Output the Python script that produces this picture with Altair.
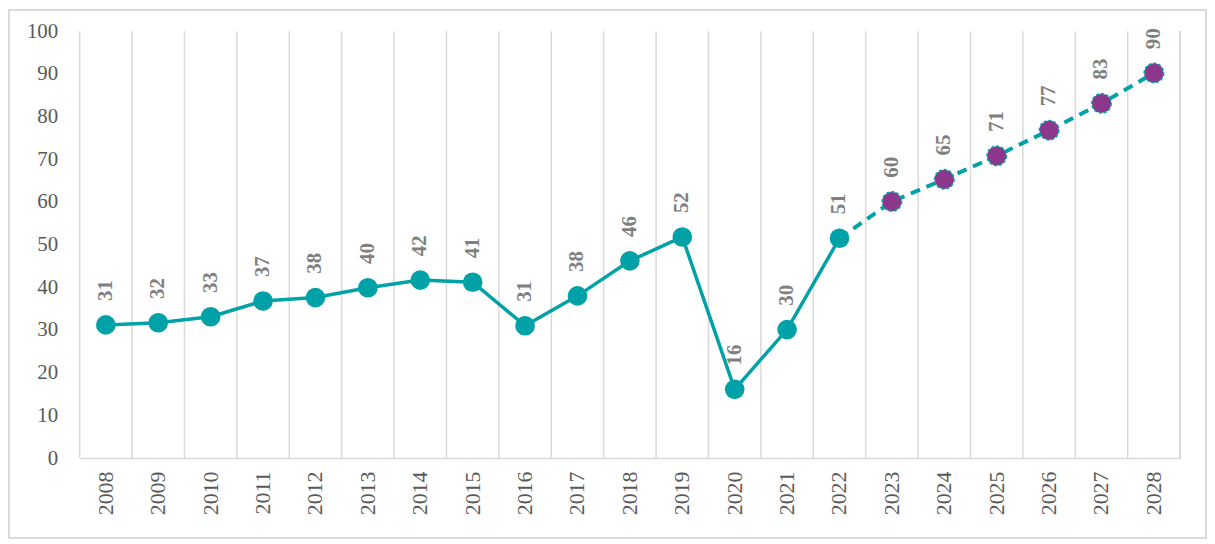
import altair as alt
import pandas as pd

years = [str(y) for y in range(2008, 2029)]
values = [31.2, 31.7, 33.1, 36.8, 37.6, 39.9, 41.7, 41.2, 31.0, 38.0, 46.2,
          51.8, 16.1, 30.1, 51.5, 60.1, 65.3, 70.8, 76.8, 83.1, 90.2]
labels = [31, 32, 33, 37, 38, 40, 42, 41, 31, 38, 46, 52, 16, 30, 51,
          60, 65, 71, 77, 83, 90]
last_actual = "2022"

TEAL = "#00A2A7"
PURPLE = "#8C368C"
GRID = "#D9D9D9"
TXT = "#595959"
FONT = "Liberation Serif"

df = pd.DataFrame({"year": years, "value": values, "label": labels})
idx = years.index(last_actual)
hist = df.iloc[: idx + 1]
fc = df.iloc[idx:]
fc_pts = df.iloc[idx + 1:]

W, H = 1106, 429

xscale = alt.Scale(type="band", paddingInner=0, paddingOuter=0, domain=years)
xaxis = alt.Axis(
    title=None, labelAngle=270, labelFont=FONT, labelFontSize=22,
    labelColor=TXT, labelPadding=13, ticks=False, domain=True,
    domainColor=GRID, domainWidth=1.5, grid=False,
)
yscale = alt.Scale(domain=[0, 100])
yaxis = alt.Axis(
    title=None, values=list(range(0, 101, 10)), labelFont=FONT,
    labelFontSize=21, labelColor=TXT, labelPadding=22, ticks=False,
    domain=False, grid=False,
)

X = alt.X("year:N", scale=xscale, axis=xaxis)
Y = alt.Y("value:Q", scale=yscale, axis=yaxis)

base = alt.Chart(df)

grid = base.mark_rule(color=GRID, strokeWidth=1.5).encode(
    x=alt.X("year:N", scale=xscale, axis=xaxis, bandPosition=0)
)
right_edge = base.mark_rule(color=GRID, strokeWidth=1.5).encode(
    x=alt.value(W), y=alt.value(0), y2=alt.value(H)
)
border = base.mark_rect(filled=False, stroke=GRID, strokeWidth=1.5).encode(
    x=alt.value(-71), x2=alt.value(W + 26), y=alt.value(-21), y2=alt.value(H + 80)
)

line_hist = alt.Chart(hist).mark_line(color=TEAL, strokeWidth=3.5).encode(x=X, y=Y)
line_fc = alt.Chart(fc).mark_line(
    color=TEAL, strokeWidth=4, strokeDash=[10, 7]
).encode(x=X, y=Y)

pts_hist = alt.Chart(hist).mark_circle(color=TEAL, size=390, opacity=1).encode(x=X, y=Y)
pts_fc = alt.Chart(fc_pts).mark_circle(
    color=PURPLE, opacity=1, size=380, stroke=TEAL, strokeWidth=1.6,
    strokeDash=[3, 2]
).encode(x=X, y=Y)

text = base.mark_text(
    font=FONT, fontSize=21, fontWeight="bold", color="#7F7F7F",
    angle=270, align="left", baseline="middle", dx=24
).encode(x=X, y=Y, text="label:N")

chart = alt.layer(
    border, grid, right_edge, line_hist, line_fc, pts_hist, pts_fc, text
).properties(
    width=W, height=H, padding=0
).configure_view(stroke=None)

chart.save("out.html", embed_options={"renderer": "svg", "actions": False})
